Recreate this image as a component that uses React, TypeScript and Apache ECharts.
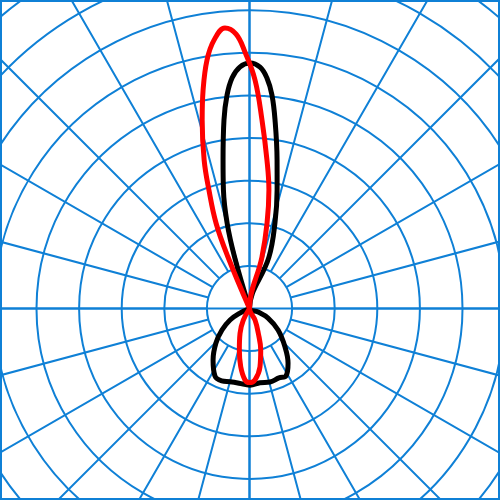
import React, { useEffect, useRef } from 'react';
import * as echarts from 'echarts';

// angles in degrees, clockwise from the top; values in cd (one ring = 100)
const redUpper: [number, number][] = [
  [-22.7, 0], [-22.7, 131], [-21.4, 215], [-18.9, 294], [-17.0, 364],
  [-14.1, 456], [-12.0, 524], [-9.7, 592], [-7.5, 636], [-5.0, 661],
  [-2.8, 645], [-1.0, 602], [1.4, 536], [3.8, 443], [6.7, 351],
  [9.3, 282], [11.6, 205], [13.6, 124], [13.6, 0],
];

const redLower: [number, number][] = [
  [154.4, 0], [154.4, 30], [160.5, 62], [164.9, 101], [169.8, 139],
  [175.6, 168], [180, 174], [-176.4, 168], [-171.4, 138], [-166.2, 100],
  [-159, 62], [-152, 31], [-152, 0],
];

const blackUpper: [number, number][] = [
  [-16.2, 0], [-16.2, 126], [-14.7, 207], [-12.4, 285], [-10.1, 354],
  [-7.7, 447], [-6.0, 504], [-4.3, 543], [-2.3, 567], [0.1, 576],
  [2.5, 567], [4.3, 543], [6.0, 504], [7.7, 447], [10.5, 355],
  [13.1, 286], [16.6, 209], [20.7, 129], [20.7, 0],
];

const blackLower: [number, number][] = [
  [112.4, 0], [112.4, 22], [117.2, 49], [127, 84], [137.3, 123],
  [144.8, 157], [151.6, 180], [157, 177], [164.4, 179], [172, 176],
  [179.6, 180], [-172, 177], [-165.1, 178], [-159, 182],
  [-152.9, 178], [-144.7, 148], [-135.8, 113], [-128, 82], [-120.5, 53],
  [-115.3, 25], [-115.3, 0],
];

const ringStep = 100;
const ringCount = 10;

const GRID = '#0f80d6';
const CENTER = [249.5, 308.5];
const RING_PX = 42.6;

function toPolar(points: [number, number][]) {
  return points.map(([a, v]) => [v, a]);
}

export default function App() {
  const elRef = useRef<HTMLDivElement>(null);

  useEffect(() => {
    if (!elRef.current) return;
    const chart = echarts.init(elRef.current, undefined, { renderer: 'svg' });

    const outer = RING_PX * ringCount;
    const hidden = { show: false };
    const gridLine = { show: true, lineStyle: { color: GRID, width: 2 } };

    chart.setOption({
      animation: false,
      backgroundColor: '#fff',
      polar: [
        { center: CENTER, radius: [0, outer] },
        { center: CENTER, radius: [RING_PX, outer] },
      ],
      angleAxis: [
        {
          polarIndex: 0,
          type: 'value',
          min: -180,
          max: 180,
          interval: 90,
          startAngle: 270,
          clockwise: true,
          axisLine: hidden,
          axisTick: hidden,
          axisLabel: hidden,
          splitLine: gridLine,
        },
        {
          polarIndex: 1,
          type: 'value',
          min: -180,
          max: 180,
          interval: 15,
          startAngle: 270,
          clockwise: true,
          axisLine: hidden,
          axisTick: hidden,
          axisLabel: hidden,
          splitLine: gridLine,
        },
      ],
      radiusAxis: [
        {
          polarIndex: 0,
          type: 'value',
          min: 0,
          max: ringStep * ringCount,
          interval: ringStep,
          axisLine: hidden,
          axisTick: hidden,
          axisLabel: hidden,
          splitLine: gridLine,
        },
        {
          polarIndex: 1,
          type: 'value',
          min: 0,
          max: ringStep * ringCount,
          axisLine: hidden,
          axisTick: hidden,
          axisLabel: hidden,
          splitLine: hidden,
        },
      ],
      series: [
        {
          type: 'line',
          coordinateSystem: 'polar',
          polarIndex: 0,
          symbol: 'none',
          smooth: 0.4,
          lineStyle: { color: '#000', width: 5 },
          data: toPolar([...blackUpper, ...blackLower, blackUpper[0]]),
        },
        {
          type: 'line',
          coordinateSystem: 'polar',
          polarIndex: 0,
          symbol: 'none',
          smooth: 0.4,
          lineStyle: { color: '#ff0000', width: 5 },
          data: toPolar([...redUpper, ...redLower, redUpper[0]]),
        },
      ],
      graphic: [
        {
          type: 'rect',
          shape: { x: 1, y: 1, width: 498, height: 498 },
          style: { fill: 'transparent', stroke: GRID, lineWidth: 2 },
          silent: true,
          z: 100,
        },
      ],
    });

    return () => chart.dispose();
  }, []);

  return (
    <div
      ref={elRef}
      style={{ position: 'fixed', left: 0, top: 0, width: 500, height: 500 }}
    />
  );
}
